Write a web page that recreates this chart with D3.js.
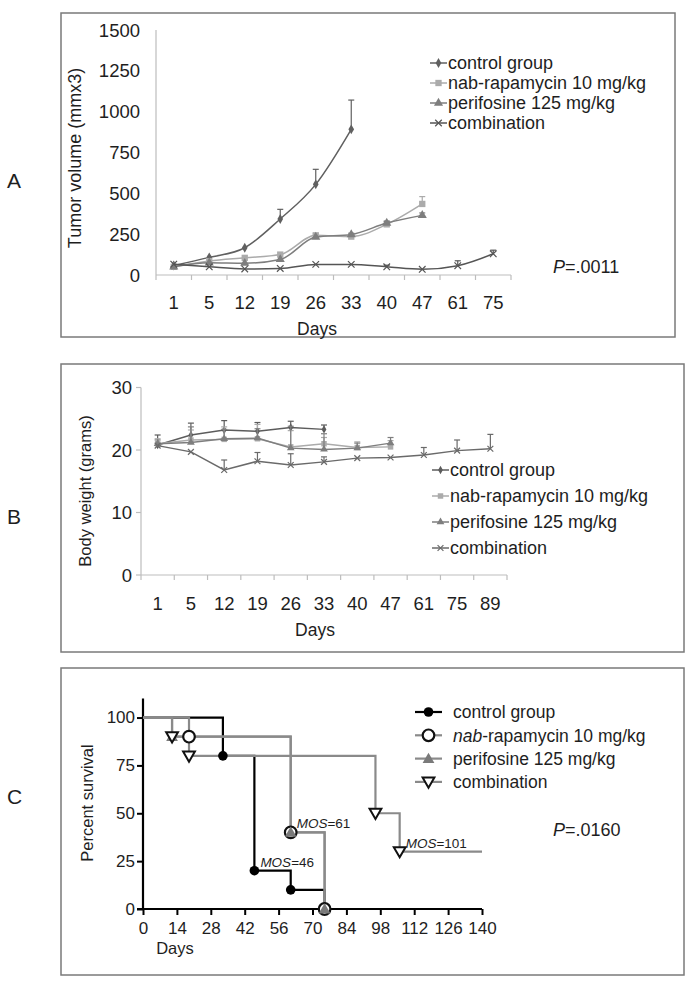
<!DOCTYPE html>
<html><head><meta charset="utf-8">
<script src="https://cdn.jsdelivr.net/npm/d3@7"></script>
<style>
body{margin:0;background:#fff}
text{font-family:"Liberation Sans",Arial,Helvetica,sans-serif;fill:#1e1e1e}
</style>
</head><body>
<svg id="chart" width="687" height="989"></svg>
<script>
// ---------------- DATA ----------------
// Panel A: tumor volume (mm3)
const daysA = ["1","5","12","19","26","33","40","47","61","75"];
const ctrlA  = [58,108,167,343,555,892];
const ctrlAErr = [0,0,0,59,92,179];
const nabA   = [50,85,105,125,243,235,310,435];
const nabAErr = [0,0,0,0,8,10,22,45];
const periA  = [50,75,72,95,232,248,318,365];
const periAErr = [0,0,0,0,0,8,10,15];
const combA  = [66,50,37,40,65,65,50,35,57,130];
const combAErr = [0,0,0,0,0,0,10,0,30,22];
const yTicksA = [0,250,500,750,1000,1250,1500];

// Panel B: body weight (grams)
const daysB = ["1","5","12","19","26","33","40","47","61","75","89"];
const ctrlB  = [20.8,22.4,23.2,23.0,23.6,23.3];
const ctrlBErr = [1.6,1.9,1.5,1.4,1.0,0.7];
const nabB   = [21.0,21.6,21.7,21.8,20.5,21.0,20.4,20.5];
const nabBErr = [0.8,1.6,2.0,2.3,2.6,1.0,0.9,1.0];
const periB  = [21.0,21.2,21.8,21.9,20.3,20.1,20.3,21.1];
const periBErr = [0.6,2.5,1.5,1.5,3.5,2.5,0.8,0.9];
const combB  = [20.7,19.7,16.8,18.2,17.6,18.1,18.7,18.8,19.2,19.9,20.2];
const combBErr = [0,0,1.6,1.4,1.8,0.8,0,0,1.2,1.7,2.3];
const yTicksB = [0,10,20,30];

// Panel C: survival (Kaplan-Meier steps)
const ctrlT = [0,33,46,61,75],   ctrlS = [100,80,20,10,0];
const nabT  = [0,19,61,75],      nabS  = [100,90,40,0];
const periT = [0,12,61,75],      periS = [100,90,40,0];
const combT = [0,12,19,96,106],  combS = [100,90,80,50,30];
const combEnd = 140;
const xTicksC = [0,14,28,42,56,70,84,98,112,126,140];
const yTicksC = [0,25,50,75,100];
const mosLabels = ["46","61","101"];
const mosDay = [46,61,106];
const mosSurv = [20,40,30];

const legendNames = ["control group","nab-rapamycin 10 mg/kg","perifosine 125 mg/kg","combination"];

// ---------------- DRAW ----------------
const svg = d3.select("#chart");
const FONT = "Liberation Sans, Arial, sans-serif";

// panel boxes
svg.append("rect").attr("x",61).attr("y",13).attr("width",614).attr("height",324)
  .attr("fill","none").attr("stroke","#7a7a7a").attr("stroke-width",1.5);
svg.append("rect").attr("x",61).attr("y",364).attr("width",623).attr("height",288)
  .attr("fill","none").attr("stroke","#7a7a7a").attr("stroke-width",1.5);
svg.append("rect").attr("x",61).attr("y",668).attr("width",623).attr("height",307)
  .attr("fill","none").attr("stroke","#7a7a7a").attr("stroke-width",1.5);

// panel letters
[["A",188],["B",524],["C",804]].forEach(([t,y])=>{
  svg.append("text").attr("x",7).attr("y",y).attr("font-size",21).text(t);
});

// ---------- Panel A/B helper ----------
function excelPanel(opt){
  const g = svg.append("g");
  const x = d3.scaleBand().domain(opt.days).range(opt.xr);
  const y = d3.scaleLinear().domain(opt.yd).range(opt.yr);
  const cx = d => x(d) + x.bandwidth()/2;
  const axisColor = "#bdbdbd";
  g.append("line").attr("x1",opt.xr[0]).attr("x2",opt.xr[0])
    .attr("y1",y(opt.yd[0])).attr("y2",y(opt.yd[1])).attr("stroke",axisColor).attr("stroke-width",1.2);
  if(opt.yTickMarks){
    opt.yTicks.forEach(v=>{
      g.append("line").attr("x1",opt.xr[0]-5).attr("x2",opt.xr[0]).attr("y1",y(v)).attr("y2",y(v))
       .attr("stroke",axisColor).attr("stroke-width",1.2);
    });
  }
  opt.yTicks.forEach(v=>{
    g.append("text").attr("x",opt.yLabelX).attr("y",y(v)).attr("dy","0.36em")
      .attr("text-anchor","end").attr("font-size",opt.tickFont).text(v);
  });
  g.append("line").attr("x1",opt.xr[0]).attr("x2",opt.xr[1])
    .attr("y1",y(0)).attr("y2",y(0)).attr("stroke",axisColor).attr("stroke-width",1.2);
  opt.days.forEach(d=>{
    g.append("line").attr("x1",x(d)+x.bandwidth()).attr("x2",x(d)+x.bandwidth())
      .attr("y1",y(0)).attr("y2",y(0)+5).attr("stroke",axisColor).attr("stroke-width",1.2);
  });
  g.append("line").attr("x1",opt.xr[0]).attr("x2",opt.xr[0])
      .attr("y1",y(0)).attr("y2",y(0)+5).attr("stroke",axisColor).attr("stroke-width",1.2);
  opt.days.forEach(d=>{
    g.append("text").attr("x",cx(d)).attr("y",opt.xLabelY).attr("text-anchor","middle")
      .attr("font-size",opt.tickFont).text(d);
  });
  g.append("text").attr("x",opt.daysX).attr("y",opt.daysY).attr("text-anchor","middle")
    .attr("font-size",opt.titleFont).text("Days");
  g.append("text").attr("transform",`translate(${opt.ytX},${opt.ytY}) rotate(-90)`)
    .attr("text-anchor","middle").attr("font-size",opt.yTitleFont).text(opt.yTitle);

  const line = d3.line().x((v,i)=>cx(opt.days[i])).y(v=>y(v)).curve(opt.curve);
  opt.series.forEach(s=>{
    s.vals.forEach((v,i)=>{
      const e = s.err[i];
      if(!e) return;
      const xx = cx(opt.days[i]);
      g.append("line").attr("x1",xx).attr("x2",xx).attr("y1",y(v)).attr("y2",y(v+e))
        .attr("stroke",s.color).attr("stroke-width",1.2);
      g.append("line").attr("x1",xx-3).attr("x2",xx+3).attr("y1",y(v+e)).attr("y2",y(v+e))
        .attr("stroke",s.color).attr("stroke-width",1.2);
    });
    g.append("path").datum(s.vals).attr("d",line).attr("fill","none")
      .attr("stroke",s.color).attr("stroke-width",1.5);
    s.vals.forEach((v,i)=>{
      g.append("path").attr("d",d3.symbol().type(s.sym).size(s.size)())
        .attr("transform",`translate(${cx(opt.days[i])},${y(v)})`)
        .attr("fill",s.stroke?"none":s.color).attr("stroke",s.stroke?s.color:"none").attr("stroke-width",1.2);
    });
  });
  opt.series.forEach((s,i)=>{
    const ly = opt.legY + i*opt.legDy;
    g.append("line").attr("x1",opt.legX).attr("x2",opt.legX+17).attr("y1",ly).attr("y2",ly)
      .attr("stroke",s.color).attr("stroke-width",1.5);
    g.append("path").attr("d",d3.symbol().type(s.sym).size(s.size)())
      .attr("transform",`translate(${opt.legX+8.5},${ly})`)
      .attr("fill",s.stroke?"none":s.color).attr("stroke",s.stroke?s.color:"none").attr("stroke-width",1.2);
    g.append("text").attr("x",opt.legX+18).attr("y",ly).attr("dy","0.36em")
      .attr("font-size",opt.legFont).text(legendNames[i]);
  });
}

excelPanel({
  days:daysA, xr:[156,511], yd:[0,1500], yr:[275,30], yTicks:yTicksA, yTickMarks:false,
  yLabelX:140, xLabelY:309, tickFont:18.5, titleFont:17.5, yTitleFont:18,
  daysX:317, daysY:335, ytX:81, ytY:158, yTitle:"Tumor volume (mmx3)",
  curve:d3.curveMonotoneX,
  legX:430, legY:63, legDy:20, legFont:18,
  series:[
    {vals:ctrlA, err:ctrlAErr, color:"#606060", sym:d3.symbolDiamond, size:28},
    {vals:nabA, err:nabAErr, color:"#ababab", sym:d3.symbolSquare, size:40},
    {vals:periA, err:periAErr, color:"#7e7e7e", sym:d3.symbolTriangle, size:36},
    {vals:combA, err:combAErr, color:"#555555", sym:d3.symbolX, size:30, stroke:true}
  ]
});

excelPanel({
  days:daysB, xr:[141,507], yd:[0,30], yr:[575,387.5], yTicks:yTicksB, yTickMarks:true,
  yLabelX:132, xLabelY:610, tickFont:18.5, titleFont:17.5, yTitleFont:16.5,
  daysX:315, daysY:636, ytX:91, ytY:491, yTitle:"Body weight (grams)",
  curve:d3.curveLinear,
  legX:432, legY:470, legDy:26, legFont:18,
  series:[
    {vals:ctrlB, err:ctrlBErr, color:"#5c5c5c", sym:d3.symbolDiamond, size:20},
    {vals:nabB, err:nabBErr, color:"#ababab", sym:d3.symbolSquare, size:30},
    {vals:periB, err:periBErr, color:"#7e7e7e", sym:d3.symbolTriangle, size:26},
    {vals:combB, err:combBErr, color:"#6a6a6a", sym:d3.symbolX, size:24, stroke:true}
  ]
});

svg.append("text").attr("x",553).attr("y",273).attr("font-size",18)
  .html('<tspan font-style="italic">P</tspan>=.0011');

// ---------- Panel C ----------
const gC = svg.append("g");
const xC = d3.scaleLinear().domain([0,140]).range([143,482]);
const yC = d3.scaleLinear().domain([0,110]).range([909,698.4]);

const axB = gC.append("g").attr("transform","translate(0,909)")
  .call(d3.axisBottom(xC).tickValues(xTicksC).tickSize(6).tickPadding(3));
const axL = gC.append("g").attr("transform","translate(143,0)")
  .call(d3.axisLeft(yC).tickValues(yTicksC).tickSize(6).tickPadding(2));
[axB,axL].forEach(a=>{
  a.select(".domain").attr("stroke","#000").attr("stroke-width",2.2);
  a.selectAll(".tick line").attr("stroke","#000").attr("stroke-width",2);
  a.selectAll("text").attr("font-size",17).attr("font-family",FONT).attr("fill","#1e1e1e");
});
axL.select(".domain").attr("d",`M-6,${yC(0)}H0V${yC(110)}`);
axB.select(".domain").attr("d",`M${xC(0)},0H${xC(140)}`);
axB.selectAll("text").attr("dy","0.95em");

gC.append("text").attr("x",175).attr("y",954).attr("text-anchor","middle").attr("font-size",16.5).text("Days");
gC.append("text").attr("transform","translate(93,803) rotate(-90)").attr("text-anchor","middle")
  .attr("font-size",16.5).text("Percent survival");

const gray = "#8a8a8a";
function kmPoints(T,S,end){
  const pts = T.map((t,i)=>[t,S[i]]);
  if(end!==undefined) pts.push([end,S[S.length-1]]);
  return pts;
}
const step = d3.line().x(d=>xC(d[0])).y(d=>yC(d[1])).curve(d3.curveStepAfter);
const survSeries = [
  {T:ctrlT,S:ctrlS,color:"#000",marker:"ctrl"},
  {T:nabT,S:nabS,color:gray,marker:"nab"},
  {T:periT,S:periS,color:gray,marker:"peri"},
  {T:combT,S:combS,color:gray,marker:"comb",end:combEnd}
];
survSeries.forEach(s=>{
  gC.append("path").datum(kmPoints(s.T,s.S,s.end)).attr("d",step)
    .attr("fill","none").attr("stroke",s.color).attr("stroke-width",2.2);
});
function drawMarker(g,type,x,y){
  if(type==="ctrl"){
    g.append("circle").attr("cx",x).attr("cy",y).attr("r",4.8).attr("fill","#000");
  } else if(type==="nab"){
    g.append("circle").attr("cx",x).attr("cy",y).attr("r",5.8).attr("fill","#fff").attr("stroke","#111").attr("stroke-width",2.2);
  } else if(type==="peri"){
    g.append("path").attr("d",d3.symbol().type(d3.symbolTriangle).size(60)())
      .attr("transform",`translate(${x},${y+1})`).attr("fill","#7a7a7a");
  } else {
    g.append("path").attr("d",d3.symbol().type(d3.symbolTriangle).size(60)())
      .attr("transform",`translate(${x},${y-1}) rotate(180)`).attr("fill","#fff")
      .attr("stroke","#111").attr("stroke-width",2);
  }
}
survSeries.forEach(s=>{
  s.T.forEach((t,i)=>{ if(i>0) drawMarker(gC,s.marker,xC(t),yC(s.S[i])); });
});
mosLabels.forEach((m,i)=>{
  gC.append("text").attr("x",xC(mosDay[i])+6).attr("y",yC(mosSurv[i])-4).attr("font-size",13.5)
    .html(`<tspan font-style="italic">MOS</tspan>=${m}`);
});
survSeries.forEach((s,i)=>{
  const ly = 712 + i*23.3;
  gC.append("line").attr("x1",415).attr("x2",442).attr("y1",ly).attr("y2",ly)
    .attr("stroke",s.color).attr("stroke-width",2.2);
  drawMarker(gC,s.marker,428.5,ly);
  const t = gC.append("text").attr("x",453).attr("y",ly).attr("dy","0.36em").attr("font-size",17.5);
  if(i===1){
    t.append("tspan").attr("font-style","italic").text("nab");
    t.append("tspan").text("-rapamycin 10 mg/kg");
  } else t.text(legendNames[i]);
});
svg.append("text").attr("x",553).attr("y",836).attr("font-size",18)
  .html('<tspan font-style="italic">P</tspan>=.0160');
</script>
</body></html>
